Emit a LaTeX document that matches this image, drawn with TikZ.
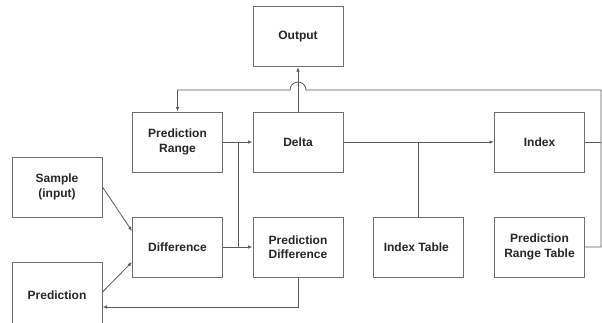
\documentclass[tikz,border=0pt]{standalone}
\usepackage{fontspec}
\setmainfont{Liberation Sans}
\usetikzlibrary{arrows.meta}
\definecolor{boxgray}{HTML}{6E6E6E}
\definecolor{wiregray}{HTML}{5A5A5A}
\tikzset{
  block/.style={draw=boxgray, line width=1pt, minimum width=90pt, minimum height=60pt,
    align=center, font=\fontsize{12}{14.5}\selectfont\bfseries, text=black!85},
  wire/.style={draw=wiregray, line width=0.8pt},
  tip/.style={wire, -{Latex[length=4.5pt,width=3.5pt]}}
}
\newcommand*{\PlaceBlocks}[1]{% #1 = list of name/x/y/text
  \foreach \name/\x/\y/\txt in {#1} {
    \node [block] (\name) at (\x,-\y) {\txt};
    }%
}

\begin{document}
\begin{tikzpicture}[x=1pt,y=1pt]
    \useasboundingbox (0,0) rectangle (602,-322);
    \PlaceBlocks{
        out/298/36.5/Output,
        prange/177.5/142/{Prediction\\Range},
        delta/298/142/Delta,
        index/539.5/142/Index,
        sample/57/187/{Sample\\(input)},
        diff/177.5/247/Difference,
        pdiff/298/247/{Prediction\\Difference},
        prtable/539.5/247/{Prediction\\Range Table},
        itable/418/247/Index Table
    }
    % runs off the bottom of the page
    \node [block, minimum height=66pt] (pred) at (57,-295) {Prediction};

    % loop back over the top, jumping the Delta -> Output wire
    \coordinate (loopcorner) at (601,-90);
    \draw [tip] (prtable.east) -| (loopcorner)
        -- ([xshift=8pt]delta.north |- loopcorner)
        arc[start angle=0, end angle=180, radius=8]
        -- (prange.north |- loopcorner) -- (prange.north);
    \draw [wire] (index.east) -- (index.east -| loopcorner);
    \draw [tip] (delta.north) -- (out.south);

    \coordinate (split) at (238,-142);
    \draw [tip] (prange.east) -- (delta.west);
    \draw [wire] (split) -- (split |- diff.east);
    \draw [tip] (diff.east) -- (pdiff.west);
    \draw [tip] (delta.east) -- (index.west);
    \draw [wire] (itable.north) -- (itable.north |- delta.east);

    \draw [tip] (sample.east) -- ([yshift=16pt]diff.west);
    \draw [tip] ([yshift=3pt]pred.east) -- ([yshift=-15pt]diff.west);
    \draw [tip] (pdiff.south) |- ([yshift=-12pt]pred.east);
\end{tikzpicture}
\end{document}
